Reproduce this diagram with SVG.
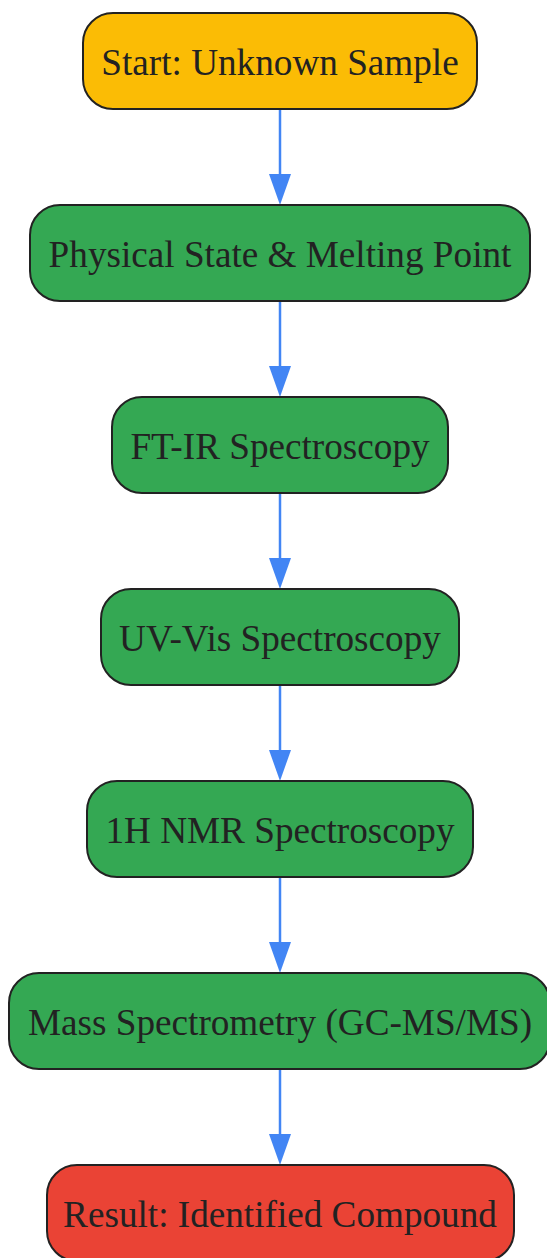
<svg xmlns="http://www.w3.org/2000/svg" width="547" height="1258" viewBox="0 0 547 1258">
<style>
.n rect{stroke:#222;stroke-width:2}
.n text{font-family:"Liberation Serif","Times New Roman",serif;font-size:37.2px;fill:#222;text-anchor:middle}
.y{fill:#FBBC05}.g{fill:#34A853}.r{fill:#EA4335}
.e{stroke:#4285F4;stroke-width:2.5;fill:none}
.h{fill:#4285F4}
</style>
<g id="connectors">
<path class="e" d="M280,110 V176"/><path class="h" d="M269,174 L291,174 L280,205 Z"/>
<path class="e" d="M280,302 V368"/><path class="h" d="M269,366 L291,366 L280,397 Z"/>
<path class="e" d="M280,494 V560"/><path class="h" d="M269,558 L291,558 L280,589 Z"/>
<path class="e" d="M280,686 V752"/><path class="h" d="M269,750 L291,750 L280,781 Z"/>
<path class="e" d="M280,878 V944"/><path class="h" d="M269,942 L291,942 L280,973 Z"/>
<path class="e" d="M280,1070 V1136"/><path class="h" d="M269,1134 L291,1134 L280,1165 Z"/>
</g>
<g id="start" class="n"><rect class="y" x="83" y="13" width="394" height="96" rx="30"/><text x="280" y="75">Start: Unknown Sample</text></g>
<g id="physical" class="n"><rect class="g" x="30" y="205" width="500" height="96" rx="30"/><text x="280" y="267">Physical State &amp; Melting Point</text></g>
<g id="ftir" class="n"><rect class="g" x="112" y="397" width="336" height="96" rx="30"/><text x="280" y="459">FT-IR Spectroscopy</text></g>
<g id="uvvis" class="n"><rect class="g" x="101" y="589" width="358" height="96" rx="30"/><text x="280" y="651">UV-Vis Spectroscopy</text></g>
<g id="nmr" class="n"><rect class="g" x="87" y="781" width="386" height="96" rx="30"/><text x="280" y="843">1H NMR Spectroscopy</text></g>
<g id="ms" class="n"><rect class="g" x="9" y="973" width="541" height="96" rx="30"/><text x="280" y="1035">Mass Spectrometry (GC-MS/MS)</text></g>
<g id="result" class="n"><rect class="r" x="47" y="1165" width="467" height="96" rx="30"/><text x="280" y="1227">Result: Identified Compound</text></g>
</svg>
